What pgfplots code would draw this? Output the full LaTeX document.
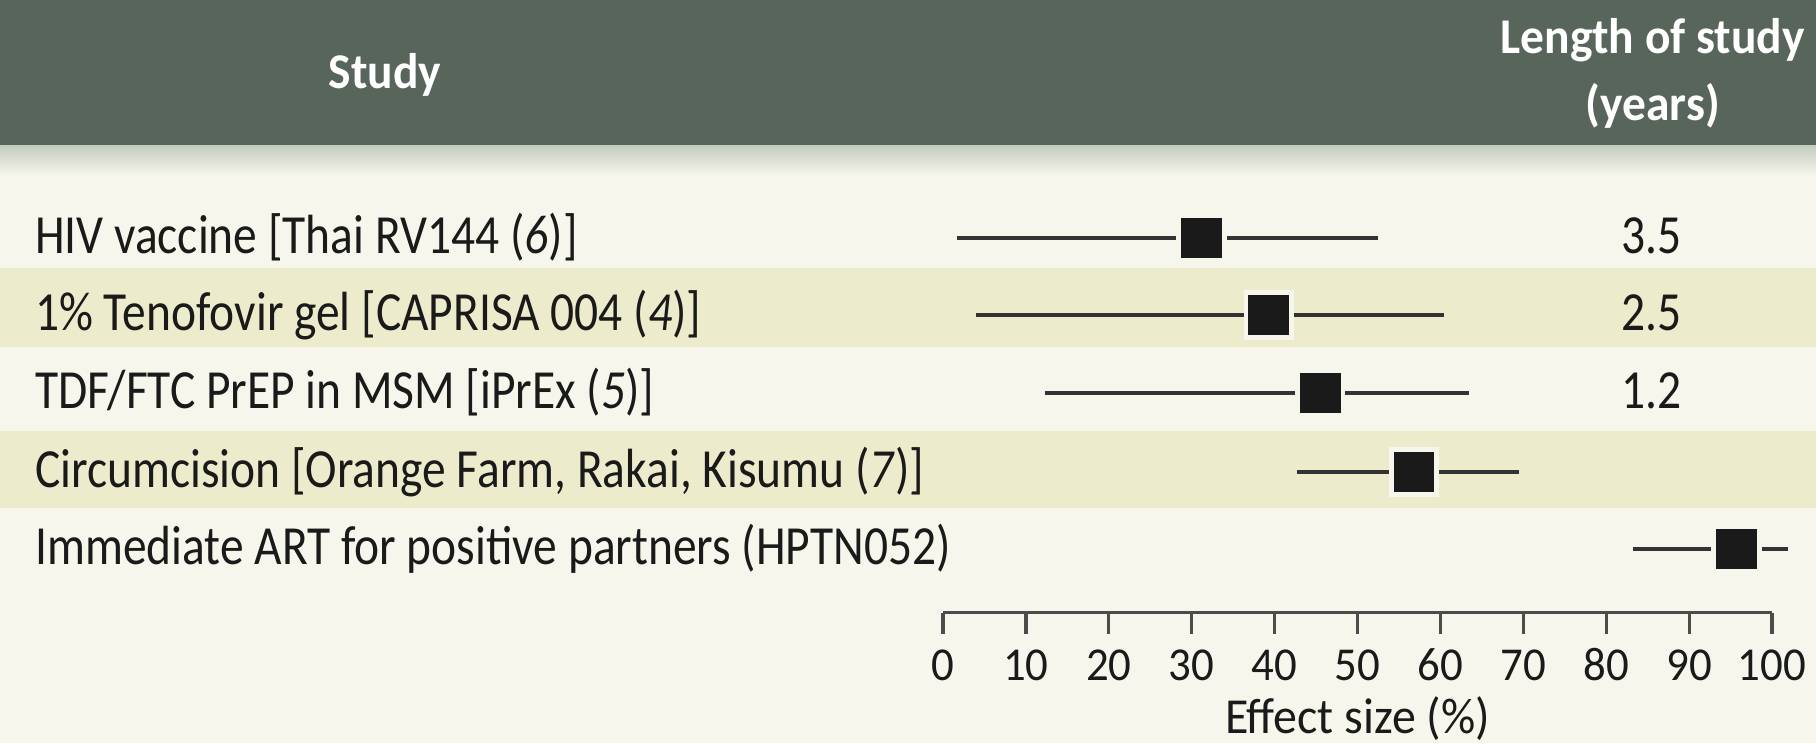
\documentclass[border=0pt]{standalone}
\usepackage{fontspec}
\setmainfont{Carlito}[FakeStretch=0.86]
\newfontfamily\headfont{Carlito}[FakeStretch=0.95]
\usepackage{pgfplots}
\pgfplotsset{compat=1.18}
\definecolor{bg}{HTML}{F6F6EC}
\definecolor{band}{HTML}{ECECCC}
\definecolor{head}{HTML}{58655B}
\definecolor{shade}{HTML}{C3CABF}
\definecolor{ink}{HTML}{1A1A1A}
\definecolor{whisk}{HTML}{333333}
\newcommand{\lbl}{\fontsize{13.8bp}{16bp}\selectfont}
\newcommand{\hdr}{\headfont\fontsize{12.5bp}{15bp}\selectfont}
\begin{document}
\begin{tikzpicture}
\begin{axis}[
  scale only axis, width=207.25bp, height=153.125bp,
  xmin=0, xmax=100, ymin=130.5, ymax=743,
  clip=false, axis on top,
  axis x line*=bottom, axis y line=none,
  x axis line style={line width=0.8bp, color=black!70, -},
  xtick={0,10,...,100}, tick align=outside, major tick length=5.25bp,
  x tick style={line width=0.8bp, black!70},
  /pgf/number format/assume math mode=true,
  xticklabel style={font=\headfont\fontsize{11.8bp}{14bp}\selectfont, text=ink, anchor=base, yshift=-11.65bp},
  xlabel={Effect size (\%)},
  xlabel style={at={(axis description cs:0.5,-0.1967)}, anchor=base, font=\headfont\fontsize{12.6bp}{15bp}\selectfont, text=ink},
]
% backgrounds
\fill[bg] (axis cs:-113.75,0) rectangle (axis cs:105.3,743);
\fill[band] (axis cs:-113.75,475) rectangle (axis cs:105.3,396);
\fill[band] (axis cs:-113.75,312) rectangle (axis cs:105.3,235);
\fill[head] (axis cs:-113.75,743) rectangle (axis cs:105.3,598);
\shade[top color=shade, bottom color=bg] (axis cs:-113.75,598) rectangle (axis cs:105.3,568);
\coordinate (TL) at (axis cs:-113.75,743);
\coordinate (BR) at (axis cs:105.3,0);
% header
\node[text=white, font=\hdr\bfseries, anchor=center] at (axis cs:-67.3,668) {Study};
\node[text=white, font=\hdr\bfseries, align=center, anchor=center] at (axis cs:85.6,670) {Length of study\\[1.8bp](years)};
% whiskers
\addplot[whisk, line width=0.8bp] coordinates {(1.65,505) (52.5,505)};
\addplot[whisk, line width=0.8bp] coordinates {(4.0,428) (60.4,428)};
\addplot[whisk, line width=0.8bp] coordinates {(12.3,350) (63.5,350)};
\addplot[whisk, line width=0.8bp] coordinates {(42.7,271) (69.5,271)};
\addplot[whisk, line width=0.8bp] coordinates {(83.2,194) (101.9,194)};
% point estimates
\addplot[only marks, mark=square*, mark size=5.7bp, mark options={fill=ink, draw=bg, line width=1.2bp}]
  coordinates {(31.2,505) (39.3,428) (45.5,350) (56.8,271) (95.7,194)};
% row labels
\node[anchor=base west, text=ink, font=\lbl] at (axis cs:-111.2,490) {HIV vaccine [Thai RV144 (\textit{6})]};
\node[anchor=base west, text=ink, font=\lbl] at (axis cs:-111.2,413) {1\% Tenofovir gel [CAPRISA 004 (\textit{4})]};
\node[anchor=base west, text=ink, font=\lbl] at (axis cs:-111.2,335) {TDF/FTC PrEP in MSM [iPrEx (\textit{5})]};
\node[anchor=base west, text=ink, font=\lbl] at (axis cs:-111.2,256) {Circumcision [Orange Farm, Rakai, Kisumu (\textit{7})]};
\node[anchor=base west, text=ink, font=\lbl] at (axis cs:-111.2,179) {Immediate ART for positive partners (HPTN052)};
% lengths
\node[anchor=base, text=ink, font=\lbl] at (axis cs:85.5,490) {3.5};
\node[anchor=base, text=ink, font=\lbl] at (axis cs:85.5,413) {2.5};
\node[anchor=base, text=ink, font=\lbl] at (axis cs:85.5,335) {1.2};
\end{axis}
\pgfresetboundingbox
\useasboundingbox (TL) rectangle (BR);
\end{tikzpicture}
\end{document}
